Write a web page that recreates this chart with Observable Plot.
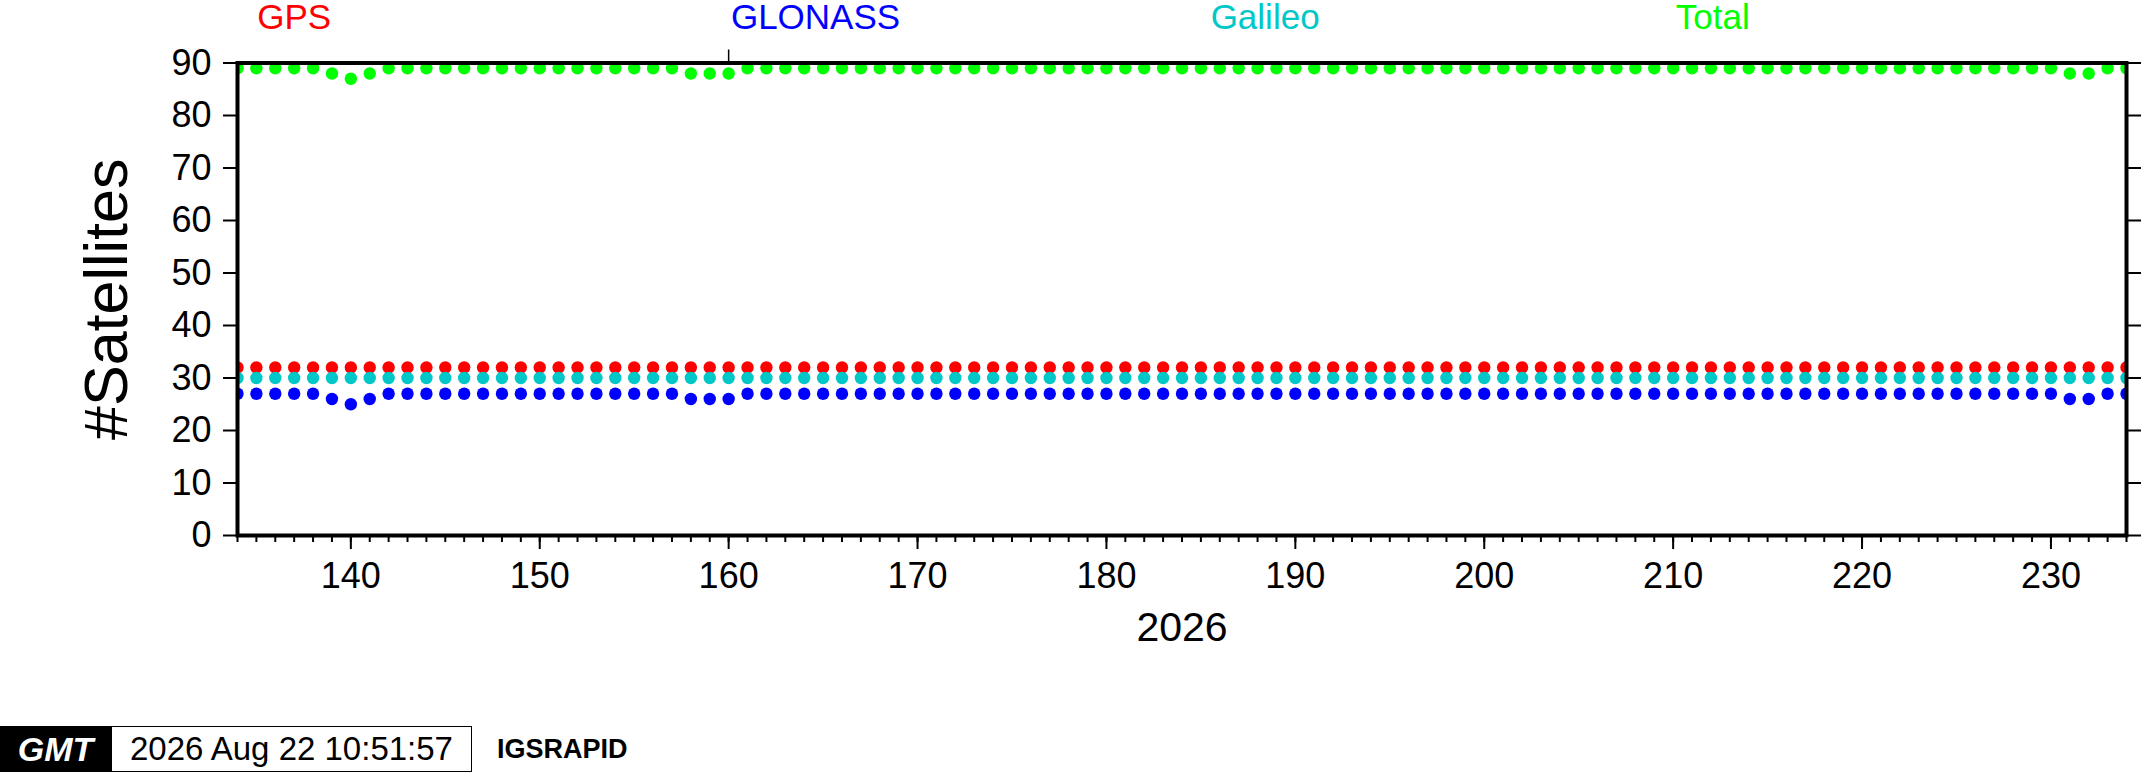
<!DOCTYPE html>
<html>
<head>
<meta charset="utf-8">
<script src="https://cdn.jsdelivr.net/npm/d3@7"></script>
<script src="https://cdn.jsdelivr.net/npm/@observablehq/plot@0.6"></script>
<style>
  body { margin: 0; background: #fff; font-family: "Liberation Sans", Arial, sans-serif; }
  #stamp { display: flex; align-items: center; height: 46px; }
  #stamp .logo { width: 111px; height: 46px; background: #000; color: #fff; font-size: 34px;
    font-weight: bold; font-style: italic; display: flex; align-items: center; justify-content: center; }
  #stamp .time { width: 361px; height: 46px; box-sizing: border-box; border: 1px solid #000;
    font-size: 33px; display: flex; align-items: center; padding-left: 18px; }
  #stamp .id { margin-left: 25px; font-size: 27px; font-weight: bold; }
</style>
</head>
<body>
<main>
  <figure id="chart" style="margin:0"></figure>
  <div id="stamp"><span class="logo">GMT</span><span class="time">2026 Aug 22 10:51:57</span><span class="id">IGSRAPID</span></div>
</main>
<script>
// day of year 2026
let days = [
  134,135,136,137,138,139,140,141,142,143,
  144,145,146,147,148,149,150,151,152,153,
  154,155,156,157,158,159,160,161,162,163,
  164,165,166,167,168,169,170,171,172,173,
  174,175,176,177,178,179,180,181,182,183,
  184,185,186,187,188,189,190,191,192,193,
  194,195,196,197,198,199,200,201,202,203,
  204,205,206,207,208,209,210,211,212,213,
  214,215,216,217,218,219,220,221,222,223,
  224,225,226,227,228,229,230,231,232,233,
  234
];

let gps = [
  32,32,32,32,32,32,32,32,32,32,
  32,32,32,32,32,32,32,32,32,32,
  32,32,32,32,32,32,32,32,32,32,
  32,32,32,32,32,32,32,32,32,32,
  32,32,32,32,32,32,32,32,32,32,
  32,32,32,32,32,32,32,32,32,32,
  32,32,32,32,32,32,32,32,32,32,
  32,32,32,32,32,32,32,32,32,32,
  32,32,32,32,32,32,32,32,32,32,
  32,32,32,32,32,32,32,32,32,32,
  32
];

let glonass = [
  27,27,27,27,27,26,25,26,27,27,
  27,27,27,27,27,27,27,27,27,27,
  27,27,27,27,26,26,26,27,27,27,
  27,27,27,27,27,27,27,27,27,27,
  27,27,27,27,27,27,27,27,27,27,
  27,27,27,27,27,27,27,27,27,27,
  27,27,27,27,27,27,27,27,27,27,
  27,27,27,27,27,27,27,27,27,27,
  27,27,27,27,27,27,27,27,27,27,
  27,27,27,27,27,27,27,26,26,27,
  27
];

let galileo = [
  30,30,30,30,30,30,30,30,30,30,
  30,30,30,30,30,30,30,30,30,30,
  30,30,30,30,30,30,30,30,30,30,
  30,30,30,30,30,30,30,30,30,30,
  30,30,30,30,30,30,30,30,30,30,
  30,30,30,30,30,30,30,30,30,30,
  30,30,30,30,30,30,30,30,30,30,
  30,30,30,30,30,30,30,30,30,30,
  30,30,30,30,30,30,30,30,30,30,
  30,30,30,30,30,30,30,30,30,30,
  30
];

let total = [
  89,89,89,89,89,88,87,88,89,89,
  89,89,89,89,89,89,89,89,89,89,
  89,89,89,89,88,88,88,89,89,89,
  89,89,89,89,89,89,89,89,89,89,
  89,89,89,89,89,89,89,89,89,89,
  89,89,89,89,89,89,89,89,89,89,
  89,89,89,89,89,89,89,89,89,89,
  89,89,89,89,89,89,89,89,89,89,
  89,89,89,89,89,89,89,89,89,89,
  89,89,89,89,89,89,89,88,88,89,
  89
];

let seriesNames = ["GPS", "GLONASS", "Galileo", "Total"];
let seriesValues = [gps, glonass, galileo, total];
let seriesColors = ["#ff0000", "#0000ff", "#00c8c8", "#00ff00"];
// where the series names sit above the frame (day units)
let nameDays = [137, 164.6, 188.4, 212.1];

let yTicks = [0, 10, 20, 30, 40, 50, 60, 70, 80, 90];
let xTicks = [140, 150, 160, 170, 180, 190, 200, 210, 220, 230];
let yearLabel = "2026";

// long table for the dots
let rows = [];
seriesNames.forEach((name, s) => {
  days.forEach((d, i) => rows.push({day: d, n: seriesValues[s][i], sat: name, color: seriesColors[s]}));
});

let chart = Plot.plot({
  width: 2142,
  height: 726,
  marginTop: 62.5,
  marginBottom: 191,
  marginLeft: 237,
  marginRight: 16,
  x: {domain: [134, 234]},
  y: {domain: [0, 90]},
  color: {type: "identity"},
  style: {
    fontFamily: "Liberation Sans, Arial, sans-serif",
    color: "#000",
    background: "#fff",
    overflow: "visible"
  },
  marks: [
    Plot.dot(rows, {x: "day", y: "n", fill: "color", r: 6.2, clip: true}),
    Plot.frame({stroke: "#000", strokeWidth: 4}),
    Plot.axisY({anchor: "left", ticks: yTicks, tickSize: 14, tickPadding: 12, fontSize: 36, strokeWidth: 2, label: null}),
    Plot.axisY({anchor: "right", ticks: yTicks, tickSize: 14, tickFormat: () => "", strokeWidth: 2, label: null}),
    Plot.axisX({anchor: "bottom", ticks: xTicks, tickSize: 14, tickPadding: 13, fontSize: 36, strokeWidth: 2, label: null}),
    Plot.axisX({anchor: "bottom", ticks: days, tickSize: 7, tickFormat: () => "", strokeWidth: 2, label: null}),
    Plot.axisX({anchor: "top", ticks: [160], tickSize: 14, tickFormat: () => "", strokeWidth: 1.5, label: null}),
    Plot.text(seriesNames, {
      x: (d, i) => nameDays[i],
      frameAnchor: "top",
      dy: -34.5,
      lineAnchor: "bottom",
      fill: (d, i) => seriesColors[i],
      fontSize: 35
    }),
    Plot.text([yearLabel], {frameAnchor: "bottom", dy: 105, lineAnchor: "bottom", fontSize: 41}),
    Plot.text(["#Satellites"], {frameAnchor: "left", dx: -130, rotate: -90, textAnchor: "middle", lineAnchor: "middle", fontSize: 61})
  ]
});

d3.select("#chart").append(() => chart);
</script>
</body>
</html>
